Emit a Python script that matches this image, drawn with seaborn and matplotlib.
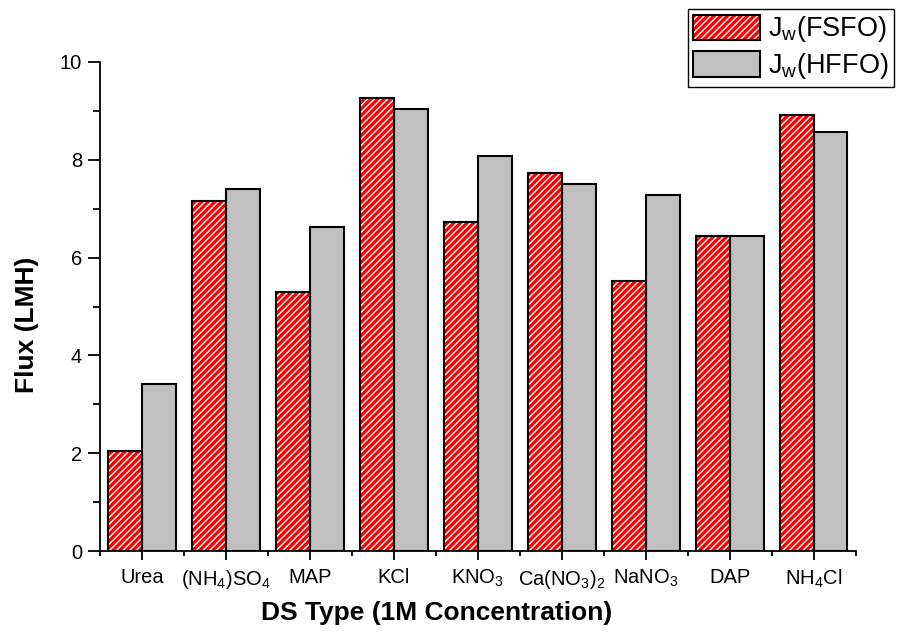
import matplotlib
matplotlib.use("Agg")
import matplotlib.pyplot as plt
import seaborn as sns
import pandas as pd
from matplotlib.patches import Rectangle, Patch
from matplotlib.ticker import MultipleLocator
from matplotlib.legend_handler import HandlerTuple

# ---- data ----
categories = ["Urea", "(NH$_\\mathregular{4}$)SO$_\\mathregular{4}$", "MAP", "KCl",
              "KNO$_\\mathregular{3}$", "Ca(NO$_\\mathregular{3}$)$_\\mathregular{2}$",
              "NaNO$_\\mathregular{3}$", "DAP", "NH$_\\mathregular{4}$Cl"]
series_names = ["J$_\\mathregular{w}$(FSFO)", "J$_\\mathregular{w}$(HFFO)"]
fsfo = [2.04, 7.16, 5.30, 9.26, 6.73, 7.73, 5.52, 6.44, 8.92]
hffo = [3.41, 7.40, 6.63, 9.04, 8.08, 7.51, 7.28, 6.44, 8.57]
yticks = [0, 2, 4, 6, 8, 10]

sns.set_style("ticks")
plt.rcParams["font.family"] = ["Liberation Sans", "DejaVu Sans"]
plt.rcParams["mathtext.fontset"] = "custom"
plt.rcParams["mathtext.rm"] = "Liberation Sans"
plt.rcParams["hatch.linewidth"] = 1.0
for k in ["text.color", "axes.labelcolor", "xtick.color", "ytick.color", "axes.edgecolor"]:
    plt.rcParams[k] = "black"

df = pd.DataFrame({
    "cat": categories * 2,
    "series": [series_names[0]] * len(categories) + [series_names[1]] * len(categories),
    "val": fsfo + hffo,
})

fig = plt.figure(figsize=(9, 6.32), dpi=100)
ax = fig.add_axes([0.111, 0.128, 0.84, 0.774])

colors = {series_names[0]: "#FF0000", series_names[1]: "#C0C0C0"}
sns.barplot(data=df, x="cat", y="val", hue="series", palette=colors,
            order=categories, hue_order=series_names, width=0.8,
            saturation=1, ax=ax, legend=False, edgecolor="black", linewidth=1.5)

n = len(categories)
patches = list(ax.patches)
for p in patches[:n]:
    p.set_edgecolor("white")
    p.set_linewidth(0)
    p.set_hatch("/////")
    ax.add_patch(Rectangle(p.get_xy(), p.get_width(), p.get_height(),
                           facecolor="none", edgecolor="black", linewidth=1.5,
                           zorder=p.get_zorder() + 0.1))

ax.set_xlim(-0.5, n - 0.5)
ax.set_ylim(0, 10)
ax.set_yticks(yticks)
ax.yaxis.set_minor_locator(MultipleLocator(1))
ax.set_xticks(range(n))
ax.set_xticks([i - 0.5 for i in range(n + 1)], minor=True)
ax.set_xticklabels(categories)

for s in ["top", "right"]:
    ax.spines[s].set_visible(False)
for s in ["left", "bottom"]:
    ax.spines[s].set_linewidth(1.3)

ax.tick_params(axis="y", which="major", length=8.5, width=1.3, labelsize=14.5, pad=4.3, direction="out")
ax.tick_params(axis="y", which="minor", length=5, width=1.3, direction="out")
ax.tick_params(axis="x", which="major", length=6.5, width=1.3, labelsize=14.5, pad=5.5, direction="out")
ax.tick_params(axis="x", which="minor", length=3.5, width=1.3, direction="out")

ax.set_xlabel("DS Type (1M Concentration)", fontsize=19, fontweight="bold")
ax.set_ylabel("Flux (LMH)", fontsize=19, fontweight="bold")
ax.xaxis.set_label_coords((437 - 100) / 756, -(613 - 551) / 489)
ax.xaxis.label.set_va("center")
ax.yaxis.set_label_coords((27 - 100) / 756, (551 - 325) / 489)
ax.yaxis.label.set_va("center")

handles = [Patch(facecolor="#FF0000", edgecolor="white", hatch="/////", linewidth=0),
           Patch(facecolor="#C0C0C0", edgecolor="black", linewidth=1.5)]
outline = Rectangle((0, 0), 1, 1, facecolor="none", edgecolor="black", linewidth=1.5)
leg = fig.legend([(handles[0], outline), handles[1]], series_names,
                 loc="upper left", bbox_to_anchor=(688 / 900, 1 - 9 / 632),
                 fontsize=19.5, frameon=True, fancybox=False, framealpha=1,
                 edgecolor="black", handlelength=2.45, handleheight=1.05,
                 handletextpad=0.3, borderpad=0.2, labelspacing=0.25, borderaxespad=0,
                 handler_map={tuple: HandlerTuple(ndivide=1, pad=0)})
leg.get_frame().set_linewidth(1.0)

fig.savefig("out.png", dpi=100)
